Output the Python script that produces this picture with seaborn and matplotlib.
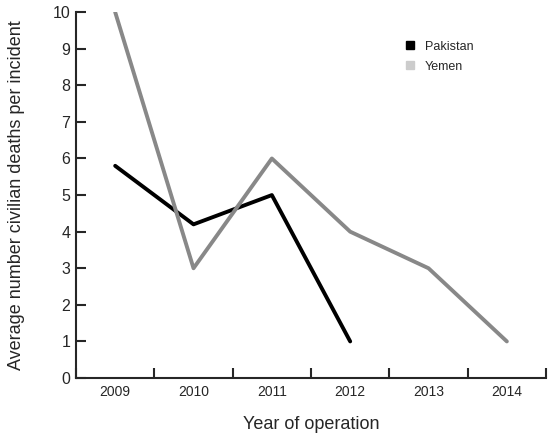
import matplotlib
matplotlib.use("Agg")
import matplotlib.pyplot as plt
import pandas as pd
import seaborn as sns
from matplotlib.lines import Line2D

years = ["2009", "2010", "2011", "2012", "2013", "2014"]
pakistan = [5.8, 4.2, 5.0, 1.0, None, None]
yemen = [10, 3, 6, 4, 3, 1]

sns.set_style("ticks")
plt.rcParams["font.family"] = ["Liberation Sans", "DejaVu Sans"]
plt.rcParams["ytick.direction"] = "in"
plt.rcParams["xtick.direction"] = "in"

df = pd.DataFrame({
    "year": years * 2,
    "deaths": pakistan + yemen,
    "country": ["Pakistan"] * 6 + ["Yemen"] * 6,
}).dropna()

fig = plt.figure(figsize=(5.48, 4.34), dpi=100)
ax = fig.add_axes([0.1387, 0.129, 0.8577, 0.843])

sns.lineplot(data=df, x="year", y="deaths", hue="country",
             palette={"Pakistan": "black", "Yemen": "#888888"},
             linewidth=2.8, sort=False, legend=False, ax=ax)

ax.set_xlim(-0.5, 5.5)
ax.set_ylim(0, 10)
ax.set_yticks(range(0, 11))
ax.set_xticks(range(6))
ax.set_xticklabels(years)
ax.set_xticks([i - 0.5 for i in range(7)], minor=True)
ax.tick_params(axis="x", which="major", length=0, labelsize=10, pad=5)
ax.tick_params(axis="x", which="minor", direction="in", length=7, width=1.5)
ax.tick_params(axis="y", direction="in", length=7, width=1.5, labelsize=11.5, pad=4)
for s in ["top", "right"]:
    ax.spines[s].set_visible(False)
for s in ["left", "bottom"]:
    ax.spines[s].set_linewidth(1.5)

ax.set_xlabel("Year of operation", fontsize=13, labelpad=12)
ax.set_ylabel("Average number civilian deaths per incident", fontsize=13, labelpad=20)

handles = [
    Line2D([], [], marker="s", linestyle="", color="black", markersize=6),
    Line2D([], [], marker="s", linestyle="", color="#cccccc", markersize=6),
]
ax.legend(handles, ["Pakistan", "Yemen"], loc="upper left",
          bbox_to_anchor=(0.66, 0.953), frameon=False, fontsize=9,
          handletextpad=0.2, labelspacing=0.65)

fig.savefig("out.png", dpi=100)
